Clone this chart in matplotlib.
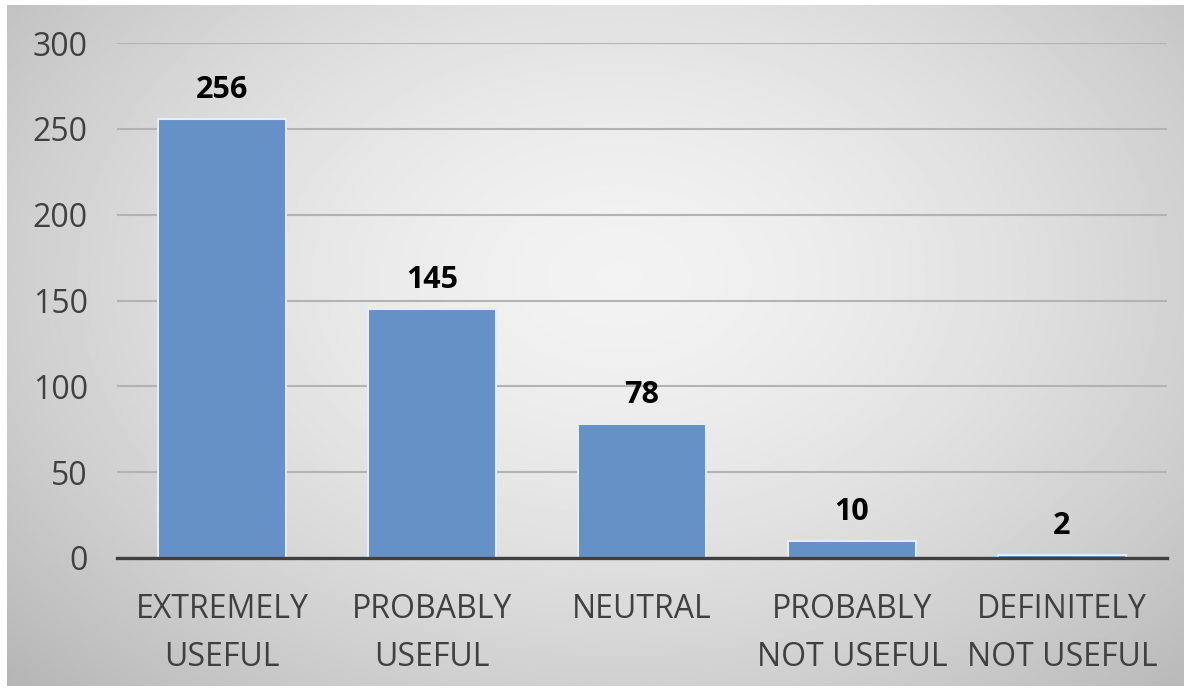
import numpy as np
import matplotlib
matplotlib.use("Agg")
import matplotlib.pyplot as plt

categories = ["EXTREMELY\nUSEFUL", "PROBABLY\nUSEFUL", "NEUTRAL",
              "PROBABLY\nNOT USEFUL", "DEFINITELY\nNOT USEFUL"]
counts = [256, 145, 78, 10, 2]
y_ticks = [0, 50, 100, 150, 200, 250, 300]

W, H = 1189, 688
fig = plt.figure(figsize=(W / 100, H / 100), dpi=100, facecolor="white")

# soft grey radial background behind the chart
bg = fig.add_axes([7 / W, 2 / H, (W - 12) / W, (H - 7) / H])
bg.set_axis_off()
yy, xx = np.mgrid[0:1:400j, 0:1:700j]
r = np.sqrt(((xx - 0.52) / 0.62) ** 2 + ((yy - 0.40) / 0.75) ** 2)
shade = 0.95 - 0.19 * np.clip(r, 0, 1.3) ** 1.6
bg.imshow(shade, cmap="gray", vmin=0, vmax=1, aspect="auto",
          extent=[0, 1, 0, 1], interpolation="bilinear")

left, right = 117 / W, 1167 / W
bottom, top = (H - 558) / H, (H - 43) / H
ax = fig.add_axes([left, bottom, right - left, top - bottom])
ax.set_facecolor("none")

x = np.arange(len(categories))
ax.bar(x, counts, width=0.61, color="#6591c6", edgecolor="#e4edf8",
       linewidth=1.5, zorder=3)

for xi, v in zip(x, counts):
    ax.annotate(f"{v}", (xi, v), xytext=(0, 15), textcoords="offset points",
                ha="center", va="baseline", fontsize=22, fontweight="bold",
                family="Open Sans", color="black", zorder=4)

ax.set_xlim(-0.5, len(categories) - 0.5)
ax.set_ylim(0, 300)
ax.set_yticks(y_ticks)
ax.set_xticks(x)
ax.set_xticklabels(categories, family="Open Sans", fontsize=23,
                   color="#404040", linespacing=1.62)
ax.set_yticklabels([str(t) for t in y_ticks], family="Open Sans",
                   fontsize=23, color="#404040")
ax.tick_params(axis="both", length=0)
ax.tick_params(axis="x", pad=25)
ax.tick_params(axis="y", pad=21)

ax.grid(axis="y", color="#b3b3b3", linewidth=1.5, zorder=0)
ax.set_axisbelow(True)
for s in ["top", "right", "left"]:
    ax.spines[s].set_visible(False)
ax.spines["bottom"].set_color("#404040")
ax.spines["bottom"].set_linewidth(2.4)
ax.spines["bottom"].set_zorder(5)

fig.savefig("out.png", dpi=100, facecolor="white")
